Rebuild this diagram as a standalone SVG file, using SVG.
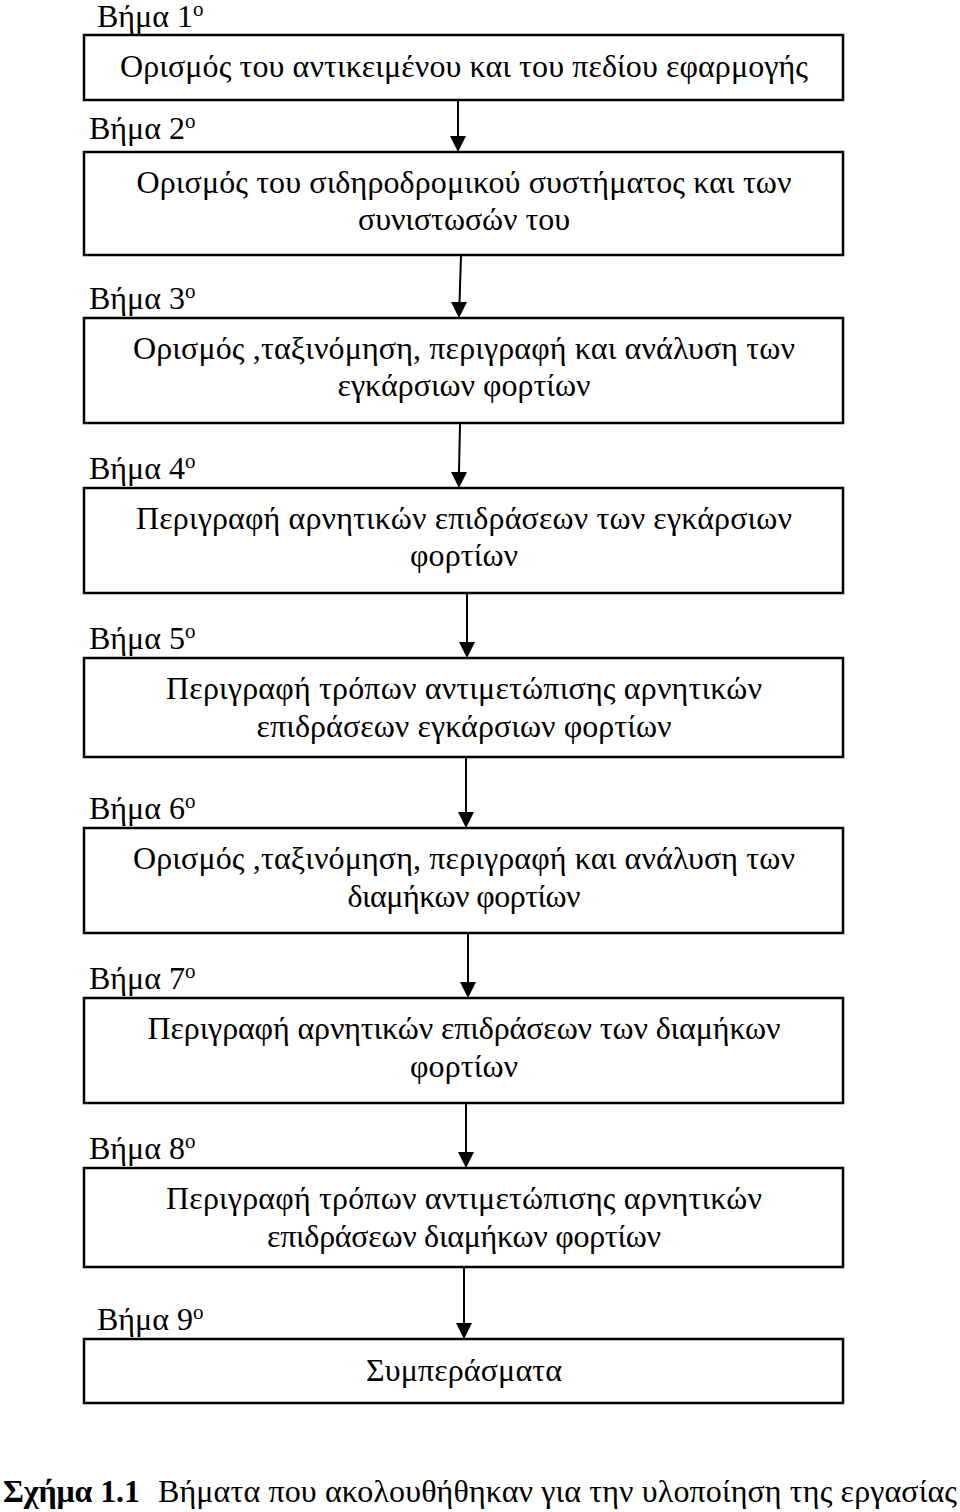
<svg xmlns="http://www.w3.org/2000/svg" width="960" height="1512" viewBox="0 0 960 1512">
<style>
text{font-family:"Liberation Serif","Times New Roman",serif;fill:#000}
.t{font-size:32px;text-anchor:middle}
.l{font-size:32px}
.s{font-size:21px}
.b{fill:#fff;stroke:#000;stroke-width:2.5}
.c line{stroke:#000;stroke-width:2}
.c path{fill:#000}
</style>
<rect width="960" height="1512" fill="#fff"/>
<g id="n1"><text class="l" x="97" y="27">Βήμα 1<tspan class="s" dy="-11">ο</tspan></text><rect class="b" x="84" y="35" width="759" height="65"/><text class="t" x="464" y="77" textLength="688">Ορισμός του αντικειμένου και του πεδίου εφαρμογής</text></g>
<g id="n2"><text class="l" x="89" y="139">Βήμα 2<tspan class="s" dy="-11">ο</tspan></text><rect class="b" x="84" y="152" width="759" height="103"/><text class="t" x="464" y="193" textLength="655">Ορισμός του σιδηροδρομικού συστήματος και των</text><text class="t" x="464" y="230" textLength="212">συνιστωσών του</text></g>
<g id="n3"><text class="l" x="89" y="309">Βήμα 3<tspan class="s" dy="-11">ο</tspan></text><rect class="b" x="84" y="318" width="759" height="105"/><text class="t" x="464" y="359" textLength="662">Ορισμός ,ταξινόμηση, περιγραφή και ανάλυση των</text><text class="t" x="464" y="396" textLength="253">εγκάρσιων φορτίων</text></g>
<g id="n4"><text class="l" x="89" y="479">Βήμα 4<tspan class="s" dy="-11">ο</tspan></text><rect class="b" x="84" y="488" width="759" height="105"/><text class="t" x="464" y="529" textLength="656">Περιγραφή αρνητικών επιδράσεων των εγκάρσιων</text><text class="t" x="464" y="566" textLength="108">φορτίων</text></g>
<g id="n5"><text class="l" x="89" y="649">Βήμα 5<tspan class="s" dy="-11">ο</tspan></text><rect class="b" x="84" y="658" width="759" height="99"/><text class="t" x="464" y="699" textLength="596">Περιγραφή τρόπων αντιμετώπισης αρνητικών</text><text class="t" x="464" y="737" textLength="415">επιδράσεων εγκάρσιων φορτίων</text></g>
<g id="n6"><text class="l" x="89" y="819">Βήμα 6<tspan class="s" dy="-11">ο</tspan></text><rect class="b" x="84" y="828" width="759" height="105"/><text class="t" x="464" y="869" textLength="662">Ορισμός ,ταξινόμηση, περιγραφή και ανάλυση των</text><text class="t" x="464" y="907" textLength="233">διαμήκων φορτίων</text></g>
<g id="n7"><text class="l" x="89" y="989">Βήμα 7<tspan class="s" dy="-11">ο</tspan></text><rect class="b" x="84" y="998" width="759" height="105"/><text class="t" x="464" y="1039" textLength="633">Περιγραφή αρνητικών επιδράσεων των διαμήκων</text><text class="t" x="464" y="1077" textLength="108">φορτίων</text></g>
<g id="n8"><text class="l" x="89" y="1159">Βήμα 8<tspan class="s" dy="-11">ο</tspan></text><rect class="b" x="84" y="1168" width="759" height="99"/><text class="t" x="464" y="1209" textLength="596">Περιγραφή τρόπων αντιμετώπισης αρνητικών</text><text class="t" x="464" y="1247" textLength="394">επιδράσεων διαμήκων φορτίων</text></g>
<g id="n9"><text class="l" x="97" y="1330">Βήμα 9<tspan class="s" dy="-11">ο</tspan></text><rect class="b" x="84" y="1339" width="759" height="64"/><text class="t" x="464" y="1381" textLength="196">Συμπεράσματα</text></g>
<g id="connectors" class="c">
<line x1="458" y1="101" x2="458" y2="136"/><path d="M450 136 L466 136 L458 152 Z"/>
<line x1="461" y1="256" x2="459.5" y2="302"/><path d="M451 302 L467 302 L459 318 Z"/>
<line x1="460" y1="424" x2="459" y2="472"/><path d="M451 472 L467 472 L459 488 Z"/>
<line x1="467" y1="594" x2="467" y2="642"/><path d="M459 642 L475 642 L467 658 Z"/>
<line x1="466" y1="758" x2="466" y2="812"/><path d="M458 812 L474 812 L466 828 Z"/>
<line x1="468" y1="934" x2="468" y2="982"/><path d="M460 982 L476 982 L468 998 Z"/>
<line x1="466" y1="1104" x2="466" y2="1152"/><path d="M458 1152 L474 1152 L466 1168 Z"/>
<line x1="464" y1="1268" x2="464" y2="1323"/><path d="M456 1323 L472 1323 L464 1339 Z"/>
</g>
<text x="3" y="1502" font-size="32px" font-weight="bold" textLength="137">Σχήμα 1.1</text>
<text x="158" y="1502" font-size="32px" textLength="799">Βήματα που ακολουθήθηκαν για την υλοποίηση της εργασίας</text>
</svg>
